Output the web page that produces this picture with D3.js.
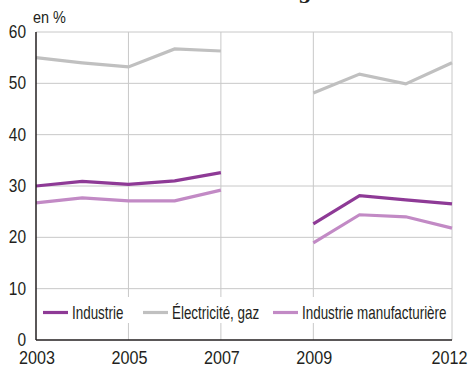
<!DOCTYPE html>
<html>
<head>
<meta charset="utf-8">
<script src="https://cdn.jsdelivr.net/npm/d3@7"></script>
<style>
  body { margin: 0; background: #fff; }
  text { font-family: "Liberation Sans", Arial, sans-serif; fill: #231f20; }
</style>
</head>
<body>
<svg id="chart" width="471" height="367"></svg>
<script>
const years = [2003, 2004, 2005, 2006, 2007, 2009, 2010, 2011, 2012];
const industrie = [30.0, 30.9, 30.3, 31.0, 32.6, 22.6, 28.1, 27.3, 26.5];
const electricite = [55.0, 54.0, 53.2, 56.7, 56.3, 48.1, 51.8, 49.9, 54.0];
const manufacturiere = [26.7, 27.7, 27.1, 27.1, 29.2, 18.9, 24.4, 24.0, 21.8];
const xTicks = [2003, 2005, 2007, 2009, 2012];
const yTicks = [0, 10, 20, 30, 40, 50, 60];

const series = [
  { name: 'Industrie', values: industrie, color: '#8e3a96' },
  { name: 'Électricité, gaz', values: electricite, color: '#c0c0c0' },
  { name: 'Industrie manufacturière', values: manufacturiere, color: '#c28ac5' }
];

const svg = d3.select('#chart');
const margin = { left: 36, right: 19, top: 32, bottom: 27 };
const width = +svg.attr('width');
const height = +svg.attr('height');

const x = d3.scaleLinear().domain([2003, 2012]).range([margin.left, width - margin.right]);
const y = d3.scaleLinear().domain([0, 60]).range([height - margin.bottom, margin.top]);

// condensed text: squeeze horizontally
const label = (g, px, py, txt, size, sx, anchor) => g.append('text')
  .attr('transform', `translate(${px},${py}) scale(${sx},1)`)
  .attr('text-anchor', anchor || 'start')
  .style('font-size', `${size}px`)
  .text(txt);

// title, cut off by the top edge in the source
svg.append('text')
  .attr('x', 305).attr('y', -1)
  .attr('text-anchor', 'middle')
  .style('font-family', '"DejaVu Serif", serif')
  .style('font-weight', 'bold')
  .style('font-size', '19px')
  .text('g');

// grid
svg.append('g').selectAll('line')
  .data(yTicks.filter(d => d > 0))
  .enter().append('line')
  .attr('x1', margin.left).attr('x2', width - margin.right)
  .attr('y1', d => y(d)).attr('y2', d => y(d))
  .attr('stroke', '#c8c8c8').attr('stroke-width', 1);

svg.append('g').selectAll('line')
  .data(xTicks.slice(1))
  .enter().append('line')
  .attr('x1', d => x(d)).attr('x2', d => x(d))
  .attr('y1', y(60)).attr('y2', y(0))
  .attr('stroke', '#c8c8c8').attr('stroke-width', 1);

// lines, broken in 2008
const line = d3.line()
  .defined(d => d[1] != null)
  .x(d => x(d[0]))
  .y(d => y(d[1]));

series.forEach(s => {
  const pts = [];
  years.forEach((yr, i) => {
    if (yr === 2009) pts.push([2008, null]);
    pts.push([yr, s.values[i]]);
  });
  svg.append('path')
    .attr('d', line(pts))
    .attr('fill', 'none')
    .attr('stroke', s.color)
    .attr('stroke-width', 3.2);
});

// axes
svg.append('line')
  .attr('x1', margin.left).attr('x2', margin.left)
  .attr('y1', y(60)).attr('y2', y(0))
  .attr('stroke', '#231f20').attr('stroke-width', 1.5);
svg.append('line')
  .attr('x1', margin.left).attr('x2', width - margin.right)
  .attr('y1', y(0)).attr('y2', y(0))
  .attr('stroke', '#231f20').attr('stroke-width', 1.5);

const yAxis = svg.append('g');
yTicks.forEach(d => label(yAxis, 26, y(d) + 6, d, 18, 0.86, 'end'));

const xAxis = svg.append('g');
xTicks.forEach((d, i) => {
  const px = i === xTicks.length - 1 ? 449.5 : x(d) + 1;
  label(xAxis, px, 364, d, 19, 0.85, 'middle');
});

label(svg, 33, 23, 'en %', 17, 0.85);

// legend
const legend = svg.append('g');
legend.append('rect')
  .attr('x', 40).attr('y', 297)
  .attr('width', 410).attr('height', 26)
  .attr('fill', '#fff');

const legendX = [43, 143, 273];
series.forEach((s, i) => {
  legend.append('line')
    .attr('x1', legendX[i]).attr('x2', legendX[i] + 25)
    .attr('y1', 312.5).attr('y2', 312.5)
    .attr('stroke', s.color).attr('stroke-width', 3.2);
  label(legend, legendX[i] + 29, 319, s.name, 18, 0.745);
});
</script>
</body>
</html>
